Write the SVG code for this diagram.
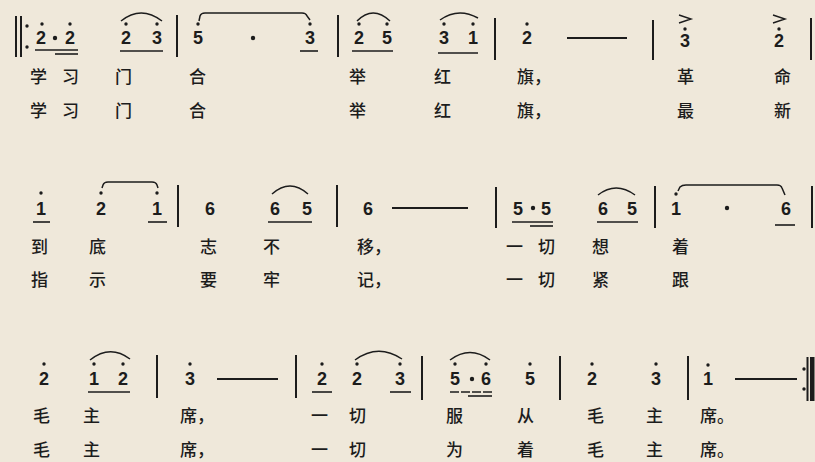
<svg xmlns="http://www.w3.org/2000/svg" width="815" height="462" viewBox="0 0 815 462">
<style>
.n{font-family:"Liberation Sans",Arial,sans-serif;font-weight:bold;font-size:18px;fill:#1c1c1c;text-anchor:middle}
.l{font-family:"Noto Sans CJK SC","Noto Sans",sans-serif;font-size:17px;font-weight:500;fill:#1c1c1c}
.bar{stroke:#1c1c1c;stroke-width:2}
.ul{stroke:#1c1c1c;stroke-width:1.6}
.sl{fill:none;stroke:#1c1c1c;stroke-width:1.5}
.ds{stroke:#1c1c1c;stroke-width:2}
.d{fill:#1c1c1c}
</style>
<defs>
<circle id="od" r="1.7" class="d"/>
<circle id="bd" r="2.2" class="d"/>
<path id="acc" d="M-6,-4 L6,0 L-6,4" fill="none" stroke="#1c1c1c" stroke-width="1.4"/>
</defs>
<rect width="815" height="462" fill="#efe8da"/>

<g id="row1">
<line x1="16" y1="16" x2="16" y2="57" class="bar" stroke-width="2.4"/>
<line x1="21" y1="16" x2="21" y2="57" class="bar" stroke-width="2.4"/>
<use href="#od" x="27" y="26"/><use href="#od" x="27" y="47"/>
<text class="n" x="41" y="44">2</text><use href="#od" x="42" y="24"/>
<use href="#bd" x="55" y="38"/>
<text class="n" x="70" y="44">2</text><use href="#od" x="70" y="24"/>
<line x1="35" y1="50" x2="78" y2="50" class="ul"/>
<line x1="55" y1="54" x2="78" y2="54" class="ul"/>
<text class="n" x="126" y="44">2</text><use href="#od" x="126" y="24"/>
<text class="n" x="157" y="44">3</text><use href="#od" x="157" y="24"/>
<path d="M121,21 Q141,5 162,21" class="sl"/>
<line x1="120" y1="51" x2="163" y2="51" class="ul"/>
<line x1="177" y1="15" x2="177" y2="57" class="bar"/>
<text class="n" x="198" y="44">5</text><use href="#od" x="198" y="24"/>
<use href="#bd" x="253" y="38"/>
<text class="n" x="310" y="44">3</text><use href="#od" x="310" y="24"/>
<path d="M199,21 L200,16 Q201,13 205,13 L302,13 Q306,13 307,16 L310,20" class="sl"/>
<line x1="300" y1="51" x2="318" y2="51" class="ul"/>
<line x1="338" y1="15" x2="338" y2="57" class="bar"/>
<text class="n" x="359" y="44">2</text><use href="#od" x="359" y="24"/>
<text class="n" x="387" y="44">5</text><use href="#od" x="387" y="24"/>
<path d="M357,21 Q373,5 390,21" class="sl"/>
<line x1="352" y1="51" x2="393" y2="51" class="ul"/>
<text class="n" x="444" y="44">3</text><use href="#od" x="444" y="24"/>
<text class="n" x="473" y="44">1</text><use href="#od" x="473" y="24"/>
<path d="M440,20 Q458,7 478,18" class="sl"/>
<line x1="438" y1="53" x2="478" y2="53" class="ul"/>
<line x1="495" y1="18" x2="495" y2="60" class="bar"/>
<text class="n" x="527" y="44">2</text><use href="#od" x="527" y="24"/>
<line x1="567" y1="38" x2="627" y2="38" class="ds"/>
<line x1="653" y1="20" x2="653" y2="60" class="bar"/>
<use href="#acc" x="685" y="19"/><use href="#od" x="685" y="29"/>
<text class="n" x="685" y="47">3</text>
<use href="#acc" x="779" y="19"/><use href="#od" x="779" y="29"/>
<text class="n" x="779" y="47">2</text>
<line x1="811" y1="18" x2="811" y2="60" class="bar"/>
</g>

<g id="lyrics1">
<text class="l" x="30" y="83">学</text><text class="l" x="62" y="83">习</text><text class="l" x="115" y="83">门</text><text class="l" x="189" y="83">合</text><text class="l" x="349" y="83">举</text><text class="l" x="434" y="83">红</text><text class="l" x="517" y="83">旗，</text><text class="l" x="677" y="83">革</text><text class="l" x="774" y="83">命</text>
<text class="l" x="30" y="117">学</text><text class="l" x="62" y="117">习</text><text class="l" x="115" y="117">门</text><text class="l" x="189" y="117">合</text><text class="l" x="349" y="117">举</text><text class="l" x="434" y="117">红</text><text class="l" x="517" y="117">旗，</text><text class="l" x="677" y="117">最</text><text class="l" x="774" y="117">新</text>
</g>

<g id="row2">
<text class="n" x="41" y="215">1</text><use href="#od" x="41" y="193"/>
<line x1="33" y1="222" x2="50" y2="222" class="ul"/>
<text class="n" x="101" y="215">2</text><use href="#od" x="101" y="193"/>
<text class="n" x="157" y="215">1</text><use href="#od" x="157" y="193"/>
<line x1="148" y1="222" x2="167" y2="222" class="ul"/>
<path d="M102,188 L103,185 Q104,182 108,182 L152,182 Q156,182 157,185 L158,188" class="sl"/>
<line x1="178" y1="185" x2="178" y2="227" class="bar"/>
<text class="n" x="210" y="215">6</text>
<text class="n" x="275" y="215">6</text>
<text class="n" x="307" y="215">5</text>
<path d="M272,194 Q290,178 308,194" class="sl"/>
<line x1="268" y1="222" x2="312" y2="222" class="ul"/>
<line x1="337" y1="185" x2="337" y2="227" class="bar"/>
<text class="n" x="368" y="215">6</text>
<line x1="392" y1="208" x2="468" y2="208" class="ds"/>
<line x1="496" y1="187" x2="496" y2="228" class="bar"/>
<text class="n" x="518" y="215">5</text>
<use href="#bd" x="533" y="208"/>
<text class="n" x="546" y="215">5</text>
<line x1="512" y1="222" x2="553" y2="222" class="ul"/>
<line x1="530" y1="226" x2="553" y2="226" class="ul"/>
<text class="n" x="603" y="215">6</text>
<text class="n" x="632" y="215">5</text>
<path d="M598,195 Q616,181 635,195" class="sl"/>
<line x1="597" y1="222" x2="638" y2="222" class="ul"/>
<line x1="655" y1="186" x2="655" y2="228" class="bar"/>
<text class="n" x="676" y="215">1</text><use href="#od" x="676" y="194"/>
<use href="#bd" x="727" y="208"/>
<text class="n" x="786" y="215">6</text>
<line x1="775" y1="225" x2="795" y2="225" class="ul"/>
<path d="M678,191 L680,187 Q682,185 686,185 L777,185 Q781,185 782,188 L785,195" class="sl"/>
<line x1="812" y1="186" x2="812" y2="228" class="bar"/>
</g>

<g id="lyrics2">
<text class="l" x="31" y="253">到</text><text class="l" x="89" y="253">底</text><text class="l" x="200" y="253">志</text><text class="l" x="263" y="253">不</text><text class="l" x="357" y="253">移，</text><text class="l" x="506" y="253">一</text><text class="l" x="538" y="253">切</text><text class="l" x="592" y="253">想</text><text class="l" x="672" y="253">着</text>
<text class="l" x="31" y="286">指</text><text class="l" x="89" y="286">示</text><text class="l" x="200" y="286">要</text><text class="l" x="263" y="286">牢</text><text class="l" x="357" y="286">记，</text><text class="l" x="506" y="286">一</text><text class="l" x="538" y="286">切</text><text class="l" x="592" y="286">紧</text><text class="l" x="672" y="286">跟</text>
</g>

<g id="row3">
<text class="n" x="44" y="385">2</text><use href="#od" x="44" y="364"/>
<text class="n" x="94" y="385">1</text><use href="#od" x="94" y="364"/>
<text class="n" x="123" y="385">2</text><use href="#od" x="123" y="364"/>
<path d="M90,360 Q110,344 130,359" class="sl"/>
<line x1="88" y1="392" x2="130" y2="392" class="ul"/>
<line x1="157" y1="355" x2="157" y2="398" class="bar"/>
<text class="n" x="190" y="385">3</text><use href="#od" x="190" y="364"/>
<line x1="217" y1="379" x2="278" y2="379" class="ds"/>
<line x1="296" y1="355" x2="296" y2="398" class="bar"/>
<text class="n" x="322" y="385">2</text><use href="#od" x="322" y="364"/>
<line x1="312" y1="392" x2="332" y2="392" class="ul"/>
<text class="n" x="357" y="385">2</text><use href="#od" x="357" y="364"/>
<text class="n" x="400" y="385">3</text><use href="#od" x="400" y="364"/>
<path d="M355,360 Q378,343 402,359" class="sl"/>
<line x1="390" y1="392" x2="411" y2="392" class="ul"/>
<line x1="422" y1="356" x2="422" y2="400" class="bar"/>
<text class="n" x="455" y="385">5</text><use href="#od" x="455" y="364"/>
<use href="#bd" x="472" y="379"/>
<text class="n" x="486" y="385">6</text><use href="#od" x="486" y="364"/>
<path d="M450,360 Q470,345 490,360" class="sl"/>
<line x1="450" y1="392" x2="492" y2="392" class="ul" stroke-dasharray="9 2"/>
<line x1="468" y1="396" x2="492" y2="396" class="ul"/>
<text class="n" x="530" y="385">5</text><use href="#od" x="530" y="364"/>
<line x1="560" y1="356" x2="560" y2="400" class="bar"/>
<text class="n" x="592" y="385">2</text><use href="#od" x="592" y="364"/>
<text class="n" x="656" y="385">3</text><use href="#od" x="656" y="364"/>
<line x1="688" y1="356" x2="688" y2="400" class="bar"/>
<text class="n" x="708" y="385">1</text><use href="#od" x="708" y="365"/>
<line x1="735" y1="379" x2="797" y2="379" class="ds"/>
<use href="#od" x="804" y="369"/><use href="#od" x="804" y="389"/>
<line x1="807.5" y1="357" x2="807.5" y2="401" class="bar" stroke-width="1.5"/>
<rect x="810" y="357" width="4.5" height="44" class="d"/>
</g>

<g id="lyrics3">
<text class="l" x="33" y="422">毛</text><text class="l" x="83" y="422">主</text><text class="l" x="180" y="422">席，</text><text class="l" x="311" y="422">一</text><text class="l" x="349" y="422">切</text><text class="l" x="446" y="422">服</text><text class="l" x="517" y="422">从</text><text class="l" x="587" y="422">毛</text><text class="l" x="646" y="422">主</text><text class="l" x="700" y="422">席。</text>
<text class="l" x="33" y="456">毛</text><text class="l" x="83" y="456">主</text><text class="l" x="180" y="456">席，</text><text class="l" x="311" y="456">一</text><text class="l" x="349" y="456">切</text><text class="l" x="446" y="456">为</text><text class="l" x="517" y="456">着</text><text class="l" x="587" y="456">毛</text><text class="l" x="646" y="456">主</text><text class="l" x="700" y="456">席。</text>
</g>
</svg>
